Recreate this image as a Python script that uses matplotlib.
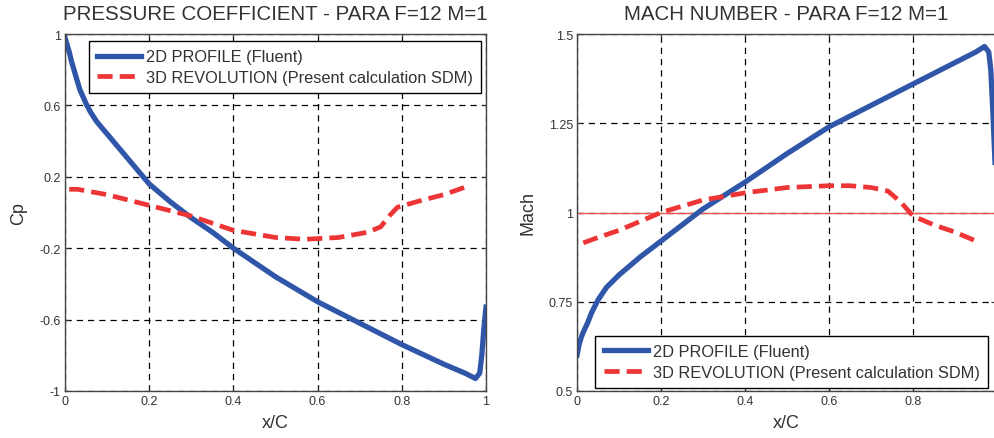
import numpy as np
import matplotlib
matplotlib.use("Agg")
from matplotlib import pyplot as plt
from matplotlib.ticker import FixedLocator

plt.rcParams['font.family'] = ['Liberation Sans', 'DejaVu Sans']

# pressure coefficient, 2D profile (Fluent)
cp2d_x = [0, 0.005, 0.01, 0.015, 0.025, 0.035, 0.05, 0.06, 0.075, 0.1, 0.125,
          0.15, 0.2, 0.25, 0.3, 0.35, 0.4, 0.5, 0.6, 0.7, 0.8, 0.9, 0.95,
          0.975, 0.985, 0.99, 0.995, 1.0]
cp2d_y = [0.98, 0.94, 0.9, 0.85, 0.77, 0.69, 0.61, 0.565, 0.51, 0.44, 0.37,
          0.3, 0.16, 0.06, -0.03, -0.11, -0.2, -0.36, -0.5, -0.62, -0.74,
          -0.85, -0.9, -0.93, -0.9, -0.8, -0.65, -0.53]

# pressure coefficient, 3D revolution (SDM)
cp3d_x = [0.01, 0.03, 0.1, 0.2, 0.3, 0.4, 0.5, 0.57, 0.65, 0.72, 0.75, 0.77,
          0.79, 0.85, 0.9, 0.96]
cp3d_y = [0.13, 0.13, 0.10, 0.04, -0.02, -0.10, -0.14, -0.15, -0.14, -0.11,
          -0.08, -0.02, 0.03, 0.07, 0.10, 0.15]

# mach number, 2D profile (Fluent)
m2d_x = [0, 0.005, 0.01, 0.015, 0.025, 0.035, 0.05, 0.07, 0.1, 0.15, 0.2,
         0.25, 0.3, 0.4, 0.5, 0.6, 0.7, 0.8, 0.9, 0.95, 0.97, 0.98, 0.985,
         0.99, 0.995]
m2d_y = [0.60, 0.63, 0.65, 0.665, 0.69, 0.72, 0.755, 0.79, 0.825, 0.875,
         0.92, 0.965, 1.01, 1.085, 1.165, 1.24, 1.30, 1.36, 1.42, 1.45,
         1.465, 1.45, 1.40, 1.28, 1.14]

# mach number, 3D revolution (SDM)
m3d_x = [0.015, 0.05, 0.1, 0.15, 0.2, 0.3, 0.4, 0.5, 0.6, 0.65, 0.7, 0.74,
         0.77, 0.8, 0.85, 0.9, 0.96]
m3d_y = [0.915, 0.93, 0.95, 0.975, 1.0, 1.035, 1.055, 1.07, 1.075, 1.075, 1.07,
         1.06, 1.03, 0.99, 0.965, 0.945, 0.915]

sonic = 1.0

cp_ticks = [-1, -0.6, -0.2, 0.2, 0.6, 1]
cp_labels = ["-1", "-0.6", "-0.2", "0.2", "0.6", "1"]
m_ticks = [0.5, 0.75, 1, 1.25, 1.5]
m_labels = ["0.5", "0.75", "1", "1.25", "1.5"]

lbl_2d = "2D PROFILE (Fluent)"
lbl_3d = "3D REVOLUTION (Present calculation SDM)"

BLUE = "#2f56a8"
RED = "#ee3535"
GREY = "#333333"

W, H = 995, 439
fig = plt.figure(figsize=(W / 100, H / 100), dpi=100)


def px_axes(x0, x1, y0, y1):
    return fig.add_axes([x0 / W, 1 - y1 / H, (x1 - x0) / W, (y1 - y0) / H])


def style(ax):
    ax.grid(True, color="black", linestyle=(0, (5, 4)), linewidth=0.9)
    ax.tick_params(direction="in", length=3, labelsize=9, colors=GREY,
                   top=True, right=True, pad=3)
    for s in ax.spines.values():
        s.set_color("#444444")
        s.set_linewidth(1.0)


def legend(ax, **kw):
    leg = ax.legend(fontsize=11.8, fancybox=False, framealpha=1,
                    edgecolor="black", handlelength=2.7, borderpad=0.5,
                    labelspacing=0.35, handletextpad=0.3, borderaxespad=0.0,
                    **kw)
    leg.get_frame().set_linewidth(1.0)
    for t in leg.get_texts():
        t.set_color(GREY)
    return leg


# left: pressure coefficient
ax1 = px_axes(65, 486, 35, 392)
ax1.plot(cp2d_x, cp2d_y, color=BLUE, lw=3.8, label=lbl_2d,
         solid_joinstyle="round")
ax1.plot(cp3d_x, cp3d_y, color=RED, lw=3.4, dashes=(3.2, 1.5), label=lbl_3d)
ax1.set_xlim(0, 1)
ax1.set_ylim(-1, 1)
ax1.xaxis.set_major_locator(FixedLocator([0, 0.2, 0.4, 0.6, 0.8, 1]))
ax1.set_xticklabels(["0", "0.2", "0.4", "0.6", "0.8", "1"])
ax1.set_yticks(cp_ticks)
ax1.set_yticklabels(cp_labels)
style(ax1)
ax1.set_title("PRESSURE COEFFICIENT - PARA F=12 M=1", fontsize=14.8,
              color=GREY, pad=11)
ax1.set_xlabel("x/C", fontsize=13, color=GREY, labelpad=5)
ax1.set_ylabel("Cp", fontsize=13, color=GREY, labelpad=9)
legend(ax1, loc="upper right", bbox_to_anchor=(0.988, 0.98))

# right: mach number
ax2 = px_axes(577, 995, 35, 392)
ax2.axhline(sonic, color="#ee5555", lw=1.0)
ax2.plot(m2d_x, m2d_y, color=BLUE, lw=3.8, label=lbl_2d,
         solid_joinstyle="round")
ax2.plot(m3d_x, m3d_y, color=RED, lw=3.4, dashes=(3.2, 1.5), label=lbl_3d)
ax2.set_xlim(0, 0.995)
ax2.set_ylim(0.5, 1.5)
ax2.set_xticks([0, 0.2, 0.4, 0.6, 0.8])
ax2.set_xticklabels(["0", "0.2", "0.4", "0.6", "0.8"])
ax2.set_yticks(m_ticks)
ax2.set_yticklabels(m_labels)
style(ax2)
ax2.set_title("MACH NUMBER - PARA F=12 M=1", fontsize=14.8, color=GREY, pad=11)
ax2.set_xlabel("x/C", fontsize=13, color=GREY, labelpad=5)
ax2.set_ylabel("Mach", fontsize=13, color=GREY, labelpad=9)
legend(ax2, loc="lower right", bbox_to_anchor=(0.983, 0.008))

fig.savefig("out.png", dpi=100)
